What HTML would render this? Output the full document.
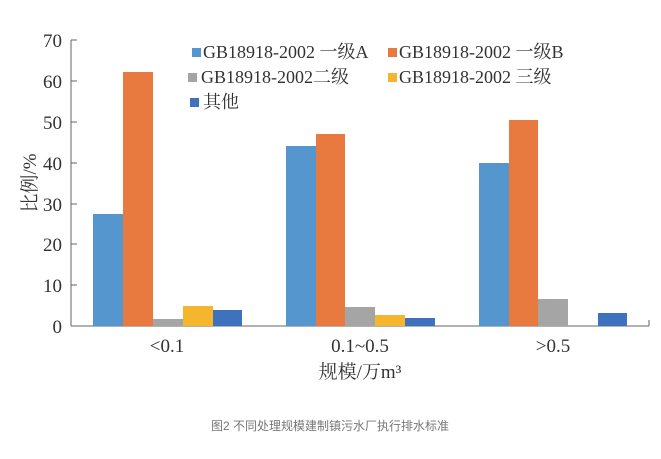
<!DOCTYPE html>
<html><head><meta charset="utf-8"><style>
body{margin:0;background:#fff;width:661px;height:454px;overflow:hidden}
svg text{font-family:"Liberation Serif","Noto Serif CJK SC",serif;fill:#333}
</style></head><body>
<svg width="661" height="454" xmlns="http://www.w3.org/2000/svg">
<g stroke="#666" stroke-width="1">
<line x1="71" y1="40" x2="71" y2="326"/>
<line x1="71" y1="326" x2="649" y2="326"/>
<line x1="71" y1="40" x2="77" y2="40"/>
<line x1="71" y1="81" x2="77" y2="81"/>
<line x1="71" y1="122" x2="77" y2="122"/>
<line x1="71" y1="163" x2="77" y2="163"/>
<line x1="71" y1="204" x2="77" y2="204"/>
<line x1="71" y1="244" x2="77" y2="244"/>
<line x1="71" y1="285" x2="77" y2="285"/>
<line x1="649" y1="320" x2="649" y2="326"/>
</g>
<g font-size="19" text-anchor="end">
<text x="62" y="47">70</text><text x="62" y="88">60</text><text x="62" y="129">50</text>
<text x="62" y="170">40</text><text x="62" y="211">30</text><text x="62" y="251">20</text>
<text x="62" y="292">10</text><text x="62" y="333">0</text>
</g>
<text transform="translate(36,183) rotate(-90)" font-size="19" text-anchor="middle">比例/%</text>
<!-- group 1 -->
<rect x="93" y="214" width="30" height="112" fill="#5596cf"/>
<rect x="123" y="72" width="30" height="254" fill="#e8793f"/>
<rect x="153" y="319" width="30" height="7" fill="#a5a5a5"/>
<rect x="183" y="306" width="30" height="20" fill="#f5b62e"/>
<rect x="213" y="310" width="29" height="16" fill="#3f72bd"/>
<!-- group 2 -->
<rect x="286" y="146" width="30" height="180" fill="#5596cf"/>
<rect x="316" y="134" width="29" height="192" fill="#e8793f"/>
<rect x="345" y="307" width="30" height="19" fill="#a5a5a5"/>
<rect x="375" y="315" width="30" height="11" fill="#f5b62e"/>
<rect x="405" y="318" width="30" height="8" fill="#3f72bd"/>
<!-- group 3 -->
<rect x="479" y="163" width="30" height="163" fill="#5596cf"/>
<rect x="509" y="120" width="29" height="206" fill="#e8793f"/>
<rect x="538" y="299" width="30" height="27" fill="#a5a5a5"/>
<rect x="598" y="313" width="29" height="13" fill="#3f72bd"/>
<g font-size="19" text-anchor="middle">
<text x="167" y="352">&lt;0.1</text>
<text x="360" y="352">0.1~0.5</text>
<text x="553" y="352">&gt;0.5</text>
<text x="360" y="378">规模/万m³</text>
</g>
<g font-size="18">
<rect x="192" y="48" width="9" height="9" fill="#5596cf"/><text x="203" y="58">GB18918-2002 一级A</text>
<rect x="388" y="48" width="9" height="9" fill="#e8793f"/><text x="399" y="58">GB18918-2002 一级B</text>
<rect x="188" y="73" width="9" height="9" fill="#a5a5a5"/><text x="201" y="83">GB18918-2002二级</text>
<rect x="388" y="73" width="9" height="9" fill="#f5b62e"/><text x="399" y="83">GB18918-2002 三级</text>
<rect x="190" y="98" width="9" height="9" fill="#3f72bd"/><text x="203" y="108">其他</text>
</g>
<text x="330" y="430" font-size="12" text-anchor="middle" style="font-family:'Liberation Sans','Noto Sans CJK SC',sans-serif;fill:#777">图2 不同处理规模建制镇污水厂执行排水标准</text>
</svg>
</body></html>
